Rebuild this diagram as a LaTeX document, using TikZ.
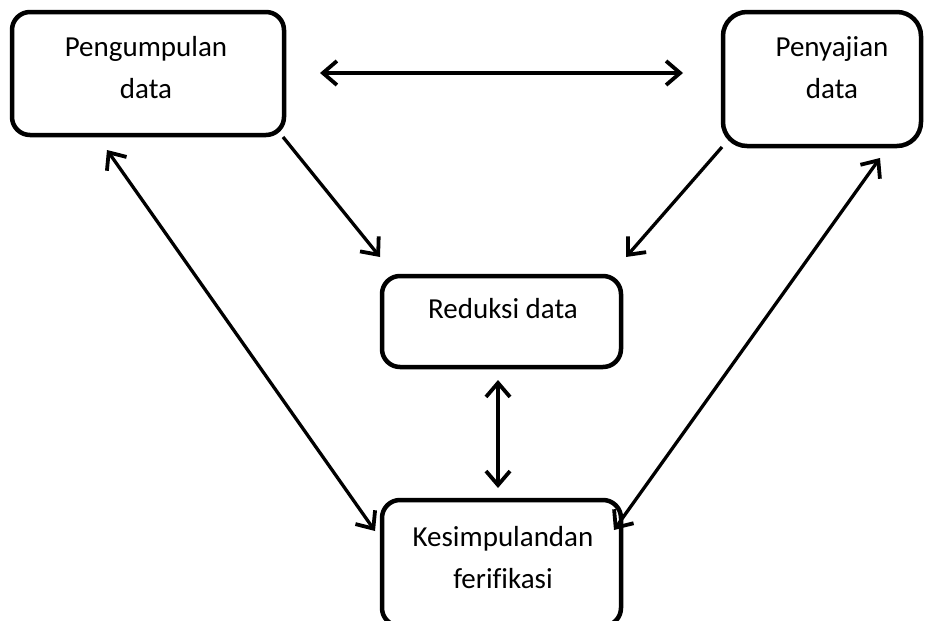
\documentclass[tikz,border=0pt]{standalone}
\usepackage{fontspec}
\setmainfont[Ligatures=NoCommon]{Carlito}
\usetikzlibrary{arrows.meta}
\begin{document}
\begin{tikzpicture}[x=1pt,y=-1pt,
  box/.style={draw, line width=4.5pt, rounded corners=18pt, inner sep=0pt},
  lbl/.style={font=\fontsize{29}{42}\selectfont, align=center, anchor=base, inner sep=0pt},
  conn/.style={line width=3.3pt, -{Straight Barb[length=14pt,width=24pt,line width=3.8pt,line join=miter]}},
  both/.style={line width=3.3pt, {Straight Barb[length=14pt,width=24pt,line width=3.8pt,line join=miter]}-{Straight Barb[length=14pt,width=24pt,line width=3.8pt,line join=miter]}}]
\useasboundingbox (0,0) rectangle (935,621);
\clip (0,0) rectangle (935,621);
% boxes
\node[box, minimum width=272pt, minimum height=123pt] (peng) at (148,73.5) {};
\node[box, rounded corners=24pt, minimum width=198pt, minimum height=134pt] (peny) at (822,79) {};
\node[box, minimum width=239pt, minimum height=91pt] (red) at (501.5,321.5) {};
\node[box, minimum width=239pt, minimum height=126pt] (kes) at (501.5,563) {};
% labels (base anchor = baseline of last line)
\node[lbl] (pengT) at (146,98) {Pengumpulan\\data};
\node[lbl] (penyT) at (832,98) {Penyajian\\data};
\node[lbl] (redT) at (503,318) {Reduksi data};
\node[lbl] (kesT) at (503,588) {Kesimpulandan\\ferifikasi};
% connector ends
\coordinate (pengE) at (320,73);
\coordinate (penyW) at (683,73);
\coordinate (pengSE) at (283,137);
\coordinate (redNW) at (380,257);
\coordinate (penySW) at (722,147);
\coordinate (redNE) at (626,257);
\coordinate (redS) at (498,380);
\coordinate (kesN) at (498,488);
\coordinate (pengS) at (107,150);
\coordinate (kesW) at (375,531);
\coordinate (penyS) at (880,158);
\coordinate (kesE) at (614,530);
% connectors
\draw[both] (pengE) -- (penyW);
\draw[conn] (pengSE) -- (redNW);
\draw[conn] (penySW) -- (redNE);
\draw[both] (redS) -- (kesN);
\draw[both] (pengS) -- (kesW);
\draw[both] (penyS) -- (kesE);
\end{tikzpicture}
\end{document}
